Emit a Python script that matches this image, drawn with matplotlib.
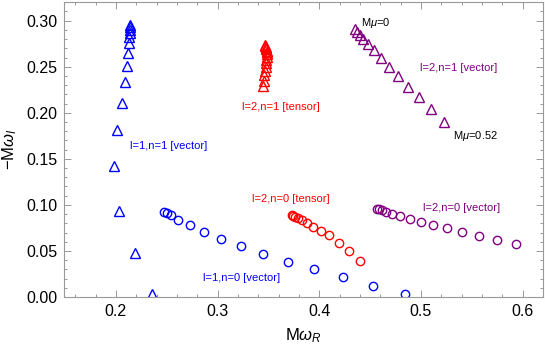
import numpy as np
import matplotlib
matplotlib.use("Agg")
import matplotlib.pyplot as plt
from matplotlib.ticker import MultipleLocator

plt.rcParams["font.family"] = ["Liberation Sans", "DejaVu Sans"]
plt.rcParams["mathtext.fontset"] = "custom"
plt.rcParams["mathtext.rm"] = "Liberation Sans"
plt.rcParams["mathtext.it"] = "Liberation Sans:italic"

# l=1, n=0 vector (circles)
l1n0_vec_x = [0.2475, 0.2499, 0.2541, 0.2613, 0.2725, 0.2863, 0.3033, 0.3227,
              0.3447, 0.3690, 0.3949, 0.4231, 0.4533, 0.4844]
l1n0_vec_y = [0.0926, 0.0915, 0.0887, 0.0840, 0.0778, 0.0709, 0.0630, 0.0550,
              0.0463, 0.0380, 0.0300, 0.0214, 0.0123, 0.0029]

# l=1, n=1 vector (triangles)
l1n1_vec_x = [0.2138, 0.2138, 0.2138, 0.2135, 0.2131, 0.2131, 0.2121, 0.2111,
              0.2089, 0.2056, 0.2013, 0.1980, 0.2032, 0.2190, 0.2357]
l1n1_vec_y = [0.2953, 0.2928, 0.2899, 0.2863, 0.2826, 0.2761, 0.2653, 0.2508,
              0.2331, 0.2103, 0.1813, 0.1426, 0.0937, 0.0474, 0.0029]

# l=2, n=0 tensor (circles)
l2n0_ten_x = [0.3729, 0.3745, 0.3765, 0.3795, 0.3834, 0.3884, 0.3943, 0.4018,
              0.4100, 0.4196, 0.4297, 0.4396]
l2n0_ten_y = [0.0890, 0.0883, 0.0872, 0.0854, 0.0833, 0.0803, 0.0763, 0.0717,
              0.0670, 0.0590, 0.0499, 0.0394]

# l=2, n=1 tensor (triangles)
l2n1_ten_x = [0.3444, 0.3452, 0.3460, 0.3467, 0.3473, 0.3478, 0.3481, 0.3483,
              0.3484, 0.3484, 0.3482, 0.3479, 0.3476, 0.3472, 0.3468, 0.3464]
l2n1_ten_y = [0.2291, 0.2350, 0.2405, 0.2455, 0.2500, 0.2540, 0.2575, 0.2606,
              0.2633, 0.2656, 0.2676, 0.2693, 0.2707, 0.2718, 0.2727, 0.2734]

# l=2, n=0 vector (circles)
l2n0_vec_x = [0.4572, 0.4592, 0.4615, 0.4657, 0.4720, 0.4795, 0.4894, 0.5002,
              0.5123, 0.5258, 0.5408, 0.5573, 0.5747, 0.5934]
l2n0_vec_y = [0.0959, 0.0952, 0.0941, 0.0923, 0.0901, 0.0880, 0.0850, 0.0818,
              0.0785, 0.0746, 0.0706, 0.0662, 0.0619, 0.0575]

# l=2, n=1 vector (triangles)
l2n1_vec_x = [0.4352, 0.4375, 0.4402, 0.4435, 0.4479, 0.4538, 0.4603, 0.4682,
              0.4774, 0.4873, 0.4981, 0.5100, 0.5228]
l2n1_vec_y = [0.2907, 0.2881, 0.2845, 0.2798, 0.2747, 0.2682, 0.2592, 0.2501,
              0.2400, 0.2283, 0.2168, 0.2041, 0.1903]

blue = "#0000ff"
red = "#ff0000"
purple = "#800080"

fig = plt.figure(figsize=(5.45, 3.52), dpi=100)
ax = fig.add_axes([0.1174, 0.1562, 0.8789, 0.8390])

mk = dict(linestyle="none", markerfacecolor="none", markeredgewidth=1.0)
ax.plot(l1n0_vec_x, l1n0_vec_y, marker="o", markersize=6, color=blue, **mk)
ax.plot(l1n1_vec_x, l1n1_vec_y, marker="^", markersize=7, color=blue, **mk)
ax.plot(l2n0_ten_x, l2n0_ten_y, marker="o", markersize=6, color=red, **mk)
ax.plot(l2n1_ten_x, l2n1_ten_y, marker="^", markersize=7, color=red, **mk)
ax.plot(l2n0_vec_x, l2n0_vec_y, marker="o", markersize=6, color=purple, **mk)
ax.plot(l2n1_vec_x, l2n1_vec_y, marker="^", markersize=7, color=purple, **mk)

fs = 8
ax.text(0.2138, 0.1643, "l=1,n=1 [vector]", color=blue, fontsize=fs, va="center")
ax.text(0.3236, 0.2066, "l=2,n=1 [tensor]", color=red, fontsize=fs, va="center")
ax.text(0.4992, 0.2490, "l=2,n=1 [vector]", color=purple, fontsize=fs, va="center")
ax.text(0.3340, 0.1064, "l=2,n=0 [tensor]", color=red, fontsize=fs, va="center")
ax.text(0.5024, 0.0970, "l=2,n=0 [vector]", color=purple, fontsize=fs, va="center")
ax.text(0.2859, 0.0203, "l=1,n=0 [vector]", color=blue, fontsize=fs, va="center")
ax.text(0.4411, 0.2978, r"M$\mu$=0", color="black", fontsize=fs, va="center")
ax.text(0.5312, 0.1748, r"M$\mu$=0.52", color="black", fontsize=fs, va="center")

ax.set_xlim(0.149, 0.620)
ax.set_ylim(0.0, 0.3206)
ax.xaxis.set_major_locator(MultipleLocator(0.1))
ax.xaxis.set_minor_locator(MultipleLocator(0.02))
ax.yaxis.set_major_locator(MultipleLocator(0.05))
ax.yaxis.set_minor_locator(MultipleLocator(0.01))
ax.set_xticklabels([f"{v:.1f}" for v in ax.get_xticks()])
ax.set_yticklabels([f"{v:.2f}" for v in ax.get_yticks()])

for s in ax.spines.values():
    s.set_color("#999999")
    s.set_linewidth(0.8)
ax.tick_params(which="both", direction="in", top=True, right=True,
               color="#999999", labelsize=11.5, width=0.7)
ax.tick_params(which="major", length=5, pad=5)
ax.tick_params(which="minor", length=2.5)

ax.set_xlabel(r"M$\omega_R$", fontsize=12, labelpad=5)
ax.set_ylabel(r"$-$M$\omega_I$", fontsize=12, labelpad=5)

fig.savefig("out.png", dpi=100)
